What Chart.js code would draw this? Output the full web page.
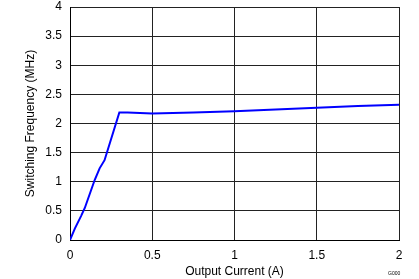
<!DOCTYPE html>
<html>
<head>
<meta charset="utf-8">
<script src="https://cdn.jsdelivr.net/npm/chart.js@4/dist/chart.umd.min.js"></script>
<style>
  body { margin: 0; background: #fff; }
  #wrap { position: relative; width: 419px; height: 279px; }
  #code { position: absolute; left: 388px; top: 270px; font: 5px "Liberation Sans", Arial, sans-serif; color: #000; }
</style>
</head>
<body>
<div id="wrap">
  <canvas id="freq" width="419" height="279"></canvas>
  <span id="code">G000</span>
</div>
<script>
// courant de sortie (A) et frequence de commutation (MHz)
const currentA = [0, 0.03, 0.067, 0.09, 0.15, 0.18, 0.21, 0.30, 0.35, 0.5, 0.75, 1.0, 1.25, 1.5, 1.75, 2.0];
const freqMHz = [0, 0.2, 0.41, 0.55, 1.03, 1.23, 1.37, 2.19, 2.19, 2.17, 2.19, 2.21, 2.24, 2.27, 2.30, 2.32];

const xTicks = [0, 0.5, 1, 1.5, 2];
const yTicks = [0, 0.5, 1, 1.5, 2, 2.5, 3, 3.5, 4];

const points = currentA.map((x, i) => ({ x: x, y: freqMHz[i] }));

Chart.defaults.font.family = '"Liberation Sans", Arial, sans-serif';
Chart.defaults.color = '#000';

const ctx = document.getElementById('freq').getContext('2d');

new Chart(ctx, {
  type: 'line',
  data: {
    datasets: [{
      data: points,
      borderColor: '#0000FF',
      borderWidth: 2,
      pointRadius: 0,
      tension: 0,
      fill: false
    }]
  },
  options: {
    responsive: false,
    animation: false,
    layout: { padding: { top: 7, right: 20, left: 0, bottom: 0 } },
    plugins: { legend: { display: false }, tooltip: { enabled: false } },
    scales: {
      x: {
        type: 'linear',
        min: 0,
        max: 2,
        afterBuildTicks: (s) => { s.ticks = xTicks.map(v => ({ value: v })); },
        ticks: { font: { size: 12 }, padding: 8, maxRotation: 0, callback: (v) => String(v) },
        grid: { color: '#222', lineWidth: 1, drawTicks: false },
        border: { color: '#000', width: 1 },
        title: { display: true, text: 'Output Current (A)', font: { size: 12 }, padding: { top: 0, bottom: 0 } },
        afterFit: (s) => { s.height = 39; }
      },
      y: {
        min: 0,
        max: 4,
        afterBuildTicks: (s) => { s.ticks = yTicks.map(v => ({ value: v })); },
        ticks: { font: { size: 12 }, padding: 8, callback: (v) => String(v) },
        grid: { color: '#222', lineWidth: 1, drawTicks: false },
        border: { color: '#000', width: 1 },
        title: { display: true, text: 'Switching Frequency (MHz)', font: { size: 12 }, padding: { top: 23, bottom: 0 } },
        afterFit: (s) => { s.width = 70; s.paddingTop = 0; s.paddingBottom = 0; }
      }
    }
  }
});
</script>
</body>
</html>
